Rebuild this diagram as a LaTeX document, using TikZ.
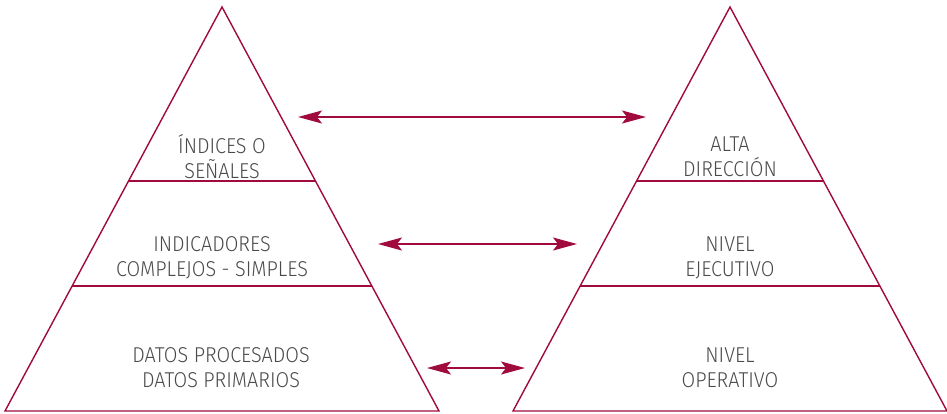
\documentclass[tikz,border=0pt]{standalone}
\usepackage{fontspec}
\setmainfont{Fira Sans Light}[FakeStretch=0.92]
\usepackage{tikz}
\usetikzlibrary{arrows.meta}

\definecolor{wine}{HTML}{A00A3C}
\definecolor{txtgray}{HTML}{4A4A4A}

\begin{document}
\begin{tikzpicture}[
	x=1pt, y=-1pt,
	tri/.style={
		draw=wine,
		line width=1.4pt,
		line join=miter
		},
	sep/.style={
		draw=wine,
		line width=1.4pt
		},
	label/.style={
		align=center,
		text=txtgray,
		font=\fontsize{21.5}{25}\selectfont,
		inner sep=0pt
		},
	link/.style={
		draw=wine,
		line width=1.6pt,
		{Stealth[length=24pt,width=13pt,inset=5pt]}-{Stealth[length=24pt,width=13pt,inset=5pt]}
		}
]
\useasboundingbox (0,0) rectangle (947,413);

% Left pyramid
\coordinate (L top) at (222,7);
\coordinate (L left) at (5,411);
\coordinate (L right) at (439,411);
\draw [tri] (L top) -- (L left) -- (L right) -- cycle;
\draw [sep] (129,181) -- (315,181);
\draw [sep] (72,286) -- (372,286);

% Right pyramid
\coordinate (R top) at (730,7);
\coordinate (R left) at (513,411);
\coordinate (R right) at (947,411);
\draw [tri] (R top) -- (R left) -- (R right) -- cycle;
\draw [sep] (637,181) -- (823,181);
\draw [sep] (580,286) -- (880,286);

% Levels
\node [label] (Senales) at (222,157) {ÍNDICES O\\SEÑALES};
\node [label] (Indicadores) at (212,258) {INDICADORES\\COMPLEJOS - SIMPLES};
\node [label] (Datos) at (221,368) {DATOS PROCESADOS\\DATOS PRIMARIOS};

\node [label] (Alta) at (730,157) {ALTA\\DIRECCIÓN};
\node [label] (Ejecutivo) at (730,258) {NIVEL\\EJECUTIVO};
\node [label] (Operativo) at (730,368) {NIVEL\\OPERATIVO};

% Links
\coordinate (a1) at (298,117);
\coordinate (b1) at (646,117);
\coordinate (a2) at (378,244);
\coordinate (b2) at (577,244);
\coordinate (a3) at (427,368);
\coordinate (b3) at (525,368);
\draw [link] (a1) -- (b1);
\draw [link] (a2) -- (b2);
\draw [link] (a3) -- (b3);

\end{tikzpicture}
\end{document}
